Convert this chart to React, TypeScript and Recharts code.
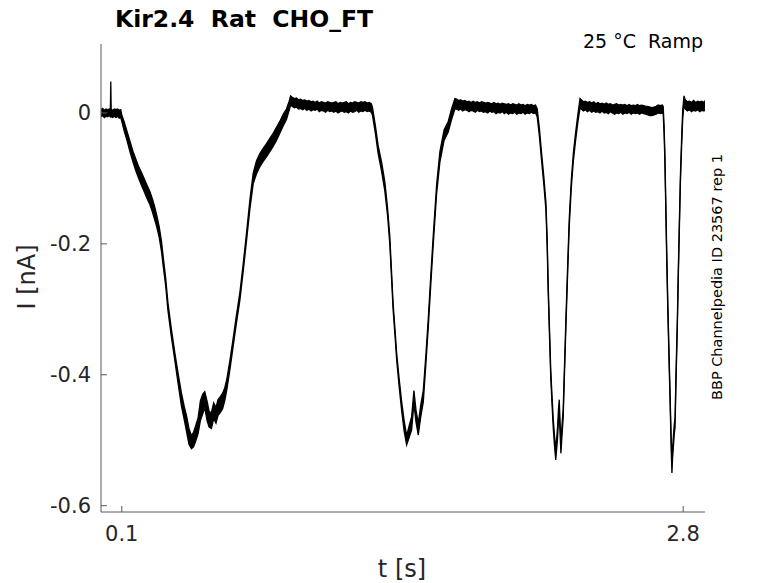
import { ComposedChart, Area, XAxis, YAxis } from 'recharts';

// each point: [t (s), lowest sweep (nA), highest sweep (nA)]
const baseline = [
  [0.000, -0.006, 0.005], [0.008, -0.004, 0.007], [0.016, -0.007, 0.004], [0.024, -0.005, 0.006],
  [0.032, -0.006, 0.005], [0.040, -0.004, 0.006], [0.045, -0.006, 0.004], [0.047, -0.005, 0.048],
  [0.049, -0.006, 0.005], [0.056, -0.007, 0.004], [0.064, -0.005, 0.006], [0.072, -0.007, 0.005],
  [0.080, -0.005, 0.006], [0.088, -0.008, 0.004], [0.095, -0.007, 0.005],
];

const ramp1 = [
  [0.100, -0.013, -0.003], [0.112, -0.028, -0.014], [0.125, -0.042, -0.028], [0.140, -0.060, -0.044],
  [0.154, -0.075, -0.059], [0.167, -0.088, -0.070], [0.180, -0.099, -0.081], [0.195, -0.111, -0.091],
  [0.210, -0.122, -0.102], [0.222, -0.131, -0.111], [0.235, -0.140, -0.120], [0.247, -0.151, -0.131],
  [0.258, -0.163, -0.143], [0.268, -0.174, -0.156], [0.280, -0.190, -0.174], [0.291, -0.212, -0.196],
  [0.300, -0.236, -0.222], [0.311, -0.264, -0.252], [0.322, -0.302, -0.290], [0.338, -0.341, -0.329],
  [0.355, -0.378, -0.366], [0.372, -0.416, -0.400], [0.387, -0.448, -0.428], [0.400, -0.468, -0.448],
  [0.411, -0.486, -0.462], [0.423, -0.506, -0.482], [0.435, -0.513, -0.493], [0.445, -0.510, -0.488],
  [0.455, -0.502, -0.478], [0.467, -0.490, -0.466], [0.478, -0.470, -0.440], [0.489, -0.460, -0.430],
  [0.499, -0.450, -0.426], [0.510, -0.470, -0.440], [0.520, -0.480, -0.456], [0.531, -0.482, -0.458],
  [0.542, -0.467, -0.443], [0.553, -0.474, -0.450], [0.563, -0.462, -0.438], [0.575, -0.457, -0.433],
  [0.585, -0.452, -0.428], [0.595, -0.440, -0.420], [0.605, -0.423, -0.407], [0.620, -0.392, -0.378],
  [0.635, -0.358, -0.346], [0.650, -0.324, -0.312], [0.668, -0.286, -0.274], [0.684, -0.242, -0.230],
  [0.700, -0.195, -0.183], [0.716, -0.147, -0.133], [0.732, -0.108, -0.092], [0.748, -0.093, -0.073],
  [0.764, -0.082, -0.062], [0.780, -0.074, -0.054], [0.796, -0.067, -0.047], [0.812, -0.059, -0.039],
  [0.828, -0.051, -0.031], [0.844, -0.042, -0.022], [0.860, -0.031, -0.013], [0.876, -0.020, -0.002],
  [0.892, -0.010, 0.006], [0.905, 0.004, 0.018], [0.912, 0.012, 0.026],
];

const plateau1 = [
  [0.92, 0.010, 0.024], [0.93, 0.008, 0.022], [0.94, 0.009, 0.023], [0.95, 0.006, 0.020],
  [0.96, 0.007, 0.021], [0.97, 0.005, 0.019], [0.98, 0.007, 0.020], [0.99, 0.004, 0.018],
  [1.00, 0.006, 0.019], [1.01, 0.003, 0.017], [1.02, 0.005, 0.018], [1.03, 0.004, 0.016],
  [1.04, 0.006, 0.018], [1.05, 0.002, 0.015], [1.06, 0.004, 0.017], [1.07, 0.003, 0.016],
  [1.08, 0.001, 0.015], [1.09, 0.004, 0.017], [1.10, 0.002, 0.016], [1.11, 0.003, 0.015],
  [1.12, 0.001, 0.016], [1.13, 0.003, 0.017], [1.14, 0.000, 0.014], [1.15, 0.002, 0.016],
  [1.16, 0.003, 0.015], [1.17, 0.001, 0.016], [1.18, 0.002, 0.017], [1.19, 0.000, 0.014],
  [1.20, 0.003, 0.016], [1.21, 0.001, 0.015], [1.22, 0.002, 0.017], [1.23, 0.004, 0.016],
  [1.24, 0.001, 0.015], [1.25, 0.003, 0.017], [1.26, 0.002, 0.016], [1.27, 0.004, 0.017],
  [1.28, 0.002, 0.015], [1.29, 0.003, 0.016], [1.30, 0.001, 0.014],
];

const ramp2 = [
  [1.306, -0.004, 0.008], [1.320, -0.032, -0.020], [1.333, -0.062, -0.050], [1.350, -0.090, -0.076],
  [1.365, -0.119, -0.105], [1.378, -0.156, -0.144], [1.389, -0.200, -0.188], [1.397, -0.250, -0.240],
  [1.405, -0.301, -0.291], [1.414, -0.340, -0.330], [1.422, -0.377, -0.367], [1.434, -0.418, -0.406],
  [1.446, -0.455, -0.441], [1.458, -0.486, -0.470], [1.470, -0.507, -0.493], [1.482, -0.496, -0.478],
  [1.494, -0.484, -0.464], [1.505, -0.444, -0.424], [1.515, -0.472, -0.454], [1.526, -0.492, -0.474],
  [1.538, -0.464, -0.446], [1.550, -0.442, -0.424], [1.562, -0.386, -0.372], [1.574, -0.328, -0.314],
  [1.586, -0.263, -0.249], [1.598, -0.201, -0.187], [1.614, -0.124, -0.110], [1.630, -0.075, -0.059],
  [1.650, -0.042, -0.026], [1.670, -0.029, -0.013], [1.686, -0.010, 0.006], [1.702, 0.006, 0.022],
];

const plateau2 = [
  [1.71, 0.006, 0.021], [1.72, 0.004, 0.019], [1.73, 0.006, 0.020], [1.74, 0.003, 0.018],
  [1.75, 0.005, 0.019], [1.76, 0.004, 0.017], [1.77, 0.002, 0.018], [1.78, 0.004, 0.016],
  [1.79, 0.003, 0.018], [1.80, 0.001, 0.016], [1.81, 0.004, 0.017], [1.82, 0.002, 0.015],
  [1.83, 0.003, 0.017], [1.84, 0.001, 0.016], [1.85, 0.002, 0.015], [1.86, 0.000, 0.016],
  [1.87, 0.003, 0.015], [1.88, 0.001, 0.014], [1.89, 0.002, 0.016], [1.90, -0.001, 0.014],
  [1.91, 0.001, 0.015], [1.92, 0.000, 0.013], [1.93, 0.002, 0.015], [1.94, -0.001, 0.014],
  [1.95, 0.001, 0.013], [1.96, -0.002, 0.014], [1.97, 0.000, 0.012], [1.98, -0.001, 0.014],
  [1.99, 0.001, 0.013], [2.00, -0.002, 0.012], [2.01, 0.000, 0.014], [2.02, -0.001, 0.012],
  [2.03, 0.001, 0.013], [2.04, -0.002, 0.011], [2.05, 0.000, 0.013], [2.06, -0.001, 0.012],
  [2.07, 0.001, 0.013], [2.08, -0.001, 0.011], [2.09, 0.000, 0.012],
];

const ramp3 = [
  [2.098, -0.006, 0.006], [2.108, -0.034, -0.022], [2.119, -0.073, -0.061], [2.130, -0.110, -0.098],
  [2.140, -0.149, -0.137], [2.146, -0.205, -0.193], [2.151, -0.276, -0.264], [2.157, -0.340, -0.328],
  [2.163, -0.403, -0.391], [2.169, -0.443, -0.431], [2.175, -0.481, -0.467], [2.181, -0.508, -0.492],
  [2.187, -0.530, -0.514], [2.192, -0.512, -0.496], [2.196, -0.496, -0.480], [2.200, -0.470, -0.454],
  [2.204, -0.454, -0.438], [2.208, -0.490, -0.474], [2.212, -0.520, -0.504], [2.217, -0.494, -0.478],
  [2.223, -0.466, -0.452], [2.229, -0.400, -0.388], [2.236, -0.327, -0.315], [2.244, -0.249, -0.237],
  [2.252, -0.174, -0.162], [2.262, -0.114, -0.102], [2.272, -0.073, -0.061], [2.282, -0.044, -0.032],
  [2.292, -0.018, -0.006], [2.304, 0.008, 0.022],
];

const plateau3 = [
  [2.31, 0.006, 0.020], [2.32, 0.003, 0.017], [2.33, 0.005, 0.018], [2.34, 0.002, 0.016],
  [2.35, 0.004, 0.017], [2.36, 0.001, 0.015], [2.37, 0.003, 0.017], [2.38, 0.001, 0.014],
  [2.39, 0.002, 0.016], [2.40, 0.000, 0.014], [2.41, 0.003, 0.015], [2.42, 0.000, 0.013],
  [2.43, 0.001, 0.015], [2.44, -0.001, 0.013], [2.45, 0.002, 0.014], [2.46, 0.000, 0.012],
  [2.47, -0.002, 0.013], [2.48, 0.000, 0.014], [2.49, -0.001, 0.012], [2.50, 0.001, 0.013],
  [2.51, -0.002, 0.012], [2.52, 0.000, 0.013], [2.53, -0.001, 0.011], [2.54, 0.001, 0.013],
  [2.55, -0.002, 0.011], [2.56, 0.000, 0.012], [2.57, -0.001, 0.011], [2.58, 0.000, 0.013],
  [2.59, -0.002, 0.011], [2.60, 0.000, 0.012], [2.61, -0.001, 0.011], [2.62, -0.002, 0.010],
  [2.63, -0.003, 0.010], [2.64, -0.004, 0.009], [2.65, -0.004, 0.008], [2.66, -0.003, 0.009],
  [2.67, -0.002, 0.010], [2.68, 0.000, 0.012], [2.69, -0.001, 0.011], [2.70, 0.000, 0.012],
];

const ramp4 = [
  [2.704, -0.002, 0.010], [2.708, -0.030, -0.018], [2.712, -0.073, -0.061], [2.716, -0.140, -0.128],
  [2.721, -0.225, -0.213], [2.726, -0.300, -0.288], [2.732, -0.378, -0.366], [2.736, -0.428, -0.416],
  [2.740, -0.480, -0.468], [2.743, -0.520, -0.504], [2.746, -0.550, -0.534], [2.749, -0.528, -0.512],
  [2.753, -0.510, -0.494], [2.757, -0.492, -0.476], [2.761, -0.480, -0.466], [2.766, -0.404, -0.392],
  [2.772, -0.327, -0.315], [2.777, -0.246, -0.234], [2.782, -0.174, -0.162], [2.787, -0.104, -0.092],
  [2.793, -0.047, -0.035], [2.798, -0.008, 0.006], [2.804, 0.012, 0.026],
];

const tail = [
  [2.81, 0.006, 0.020], [2.82, 0.003, 0.017], [2.83, 0.005, 0.018], [2.84, 0.002, 0.016],
  [2.85, 0.004, 0.019], [2.86, 0.003, 0.016], [2.87, 0.005, 0.018], [2.88, 0.002, 0.017],
  [2.89, 0.004, 0.018], [2.90, 0.003, 0.016], [2.905, 0.005, 0.019],
];

const xTicks = [0.1, 2.8];
const yTicks = [-0.6, -0.4, -0.2, 0];

const trace = [...baseline, ...ramp1, ...plateau1, ...ramp2, ...plateau2, ...ramp3, ...plateau3, ...ramp4, ...tail]
  .map(([t, lo, hi]) => ({ t, band: [lo, hi] }));

const font = 'DejaVu Sans, sans-serif';
const axisColor = '#595959';
const tickStyle = { fill: '#262626', fontSize: 21, fontFamily: font };

export default function App() {
  return (
    <div style={{ position: 'absolute', left: 0, top: 0, width: 778, height: 583, background: '#fff' }}>
      <ComposedChart width={778} height={583} data={trace} margin={{ top: 44, right: 73, bottom: 0, left: 0 }}>
        <XAxis
          dataKey="t"
          type="number"
          domain={[0, 2.905]}
          ticks={xTicks}
          allowDataOverflow
          height={71}
          stroke={axisColor}
          tickSize={-6}
          tickMargin={20}
          tick={tickStyle}
        />
        <YAxis
          type="number"
          domain={[-0.6096, 0.1053]}
          ticks={yTicks}
          allowDataOverflow
          width={101}
          stroke={axisColor}
          tickSize={-6}
          tickMargin={16}
          tick={tickStyle}
        />
        <Area
          dataKey="band"
          type="linear"
          stroke="#000"
          strokeWidth={1.3}
          fill="#000"
          fillOpacity={1}
          dot={false}
          activeDot={false}
          isAnimationActive={false}
        />
      </ComposedChart>
      <svg width={778} height={583} style={{ position: 'absolute', left: 0, top: 0, pointerEvents: 'none', whiteSpace: 'pre' }}>
        <text x={244} y={26.7} textAnchor="middle" fontFamily={font} fontWeight="bold" fontSize={23.5} fill="#000" xmlSpace="preserve">
          {'Kir2.4  Rat  CHO_FT'}
        </text>
        <text x={703} y={48} textAnchor="end" fontFamily={font} fontSize={19} fill="#000" xmlSpace="preserve">
          {'25 °C  Ramp'}
        </text>
        <text x={402} y={577} textAnchor="middle" fontFamily={font} fontSize={24} fill="#262626">
          t [s]
        </text>
        <text x={35} y={277} textAnchor="middle" fontFamily={font} fontSize={24} fill="#262626" transform="rotate(-90 35 277)">
          I [nA]
        </text>
        <text x={722} y={277} textAnchor="middle" fontFamily={font} fontSize={14.5} fill="#000" transform="rotate(-90 722 277)">
          BBP Channelpedia ID 23567 rep 1
        </text>
      </svg>
    </div>
  );
}
